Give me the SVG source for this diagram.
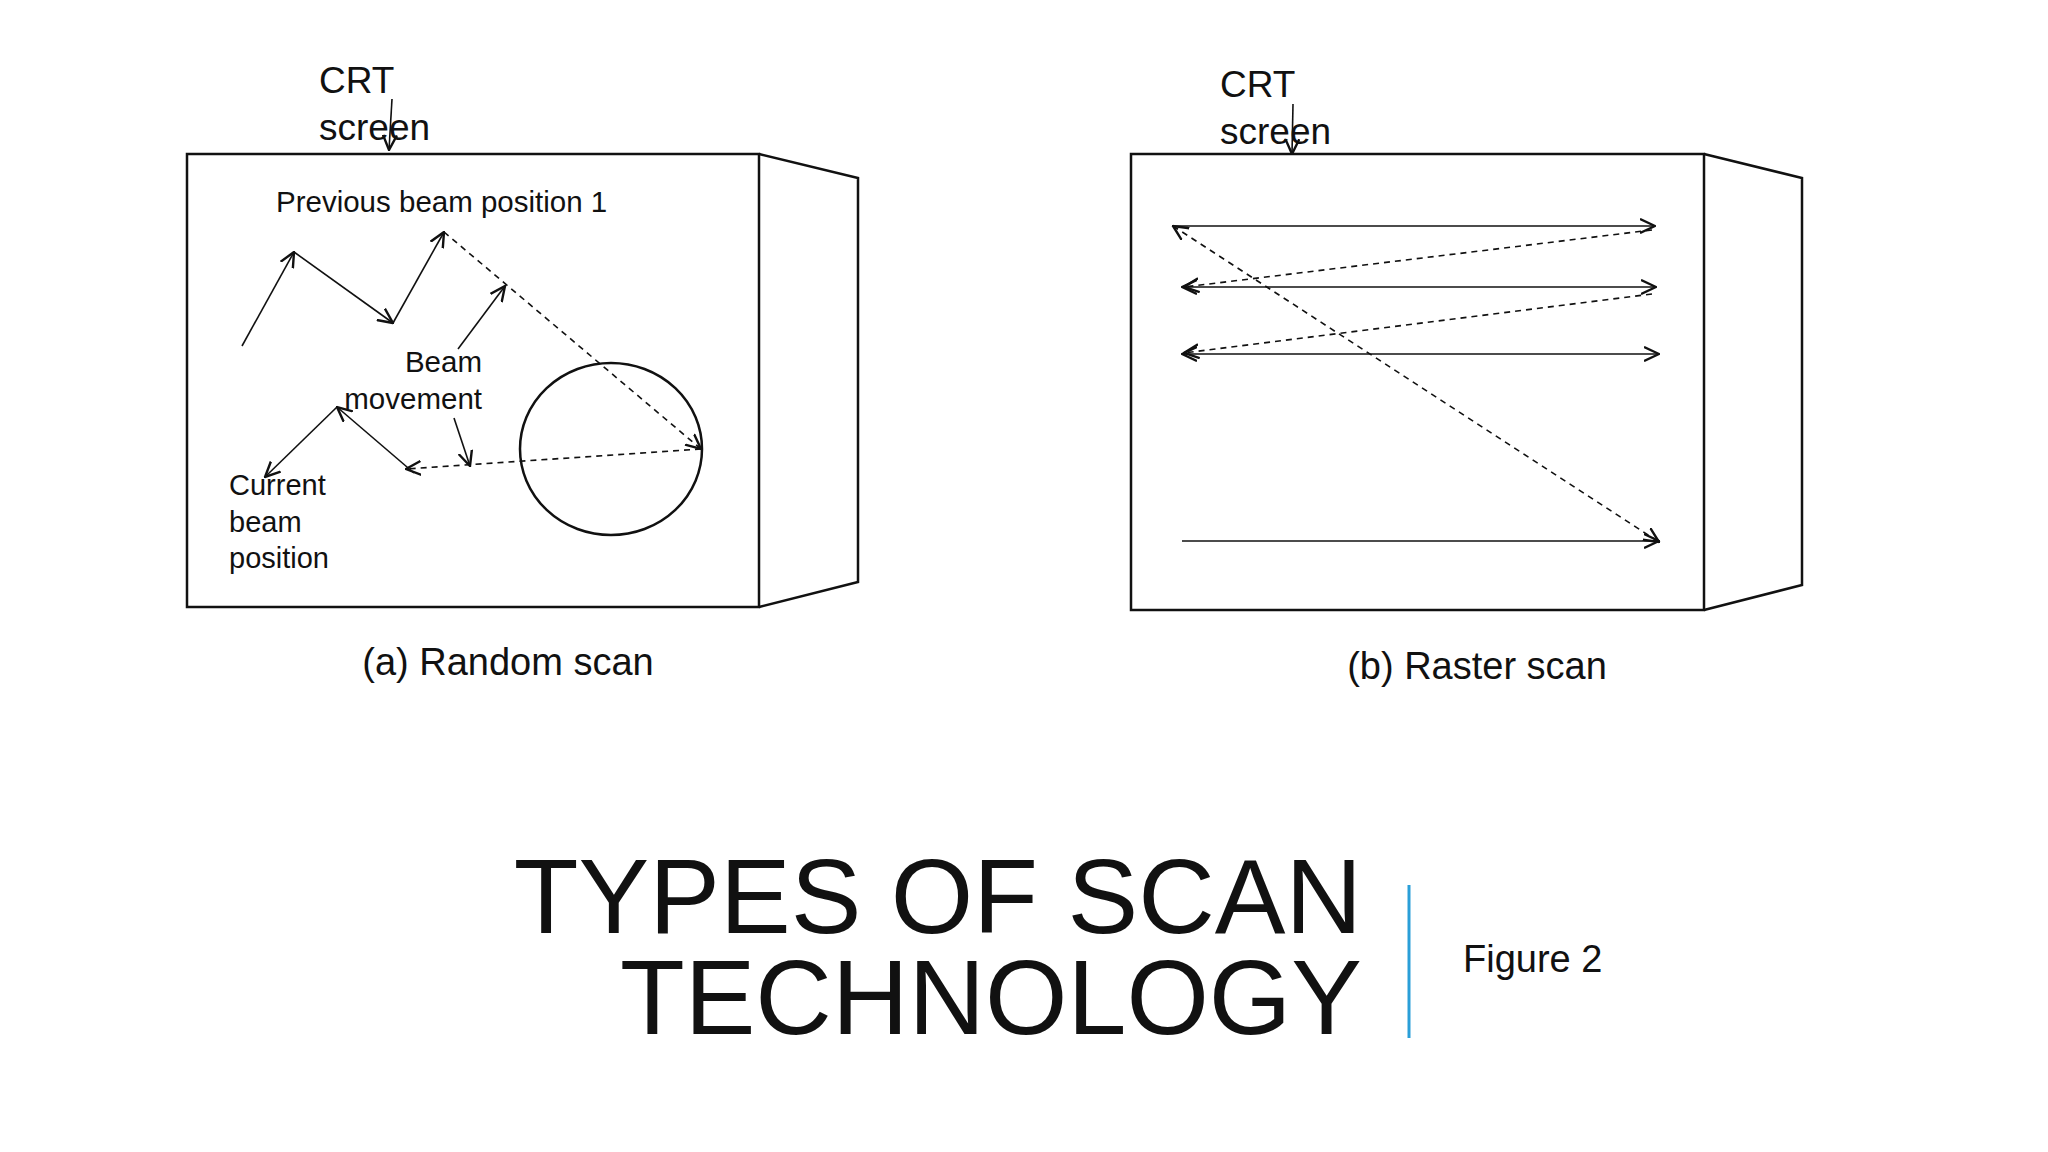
<svg xmlns="http://www.w3.org/2000/svg" width="2048" height="1152" viewBox="0 0 2048 1152">
<style>
.t{font-family:"Liberation Sans",Arial,sans-serif;fill:#111}
.s{stroke:#111;fill:none;stroke-width:1.6}
.b{stroke:#111;fill:none;stroke-width:2.5}
.d{stroke-dasharray:6,5}
</style>
<defs>
<marker id="a" viewBox="0 0 16 16" refX="15" refY="8" markerWidth="16" markerHeight="16" markerUnits="userSpaceOnUse" orient="auto-start-reverse"><path d="M0,1 L15,8 L0,15" fill="none" stroke="#111" stroke-width="2.4"/></marker>
</defs>
<rect width="2048" height="1152" fill="#fff"/>
<g id="panelA">
<rect x="187" y="154" width="572" height="453" class="b"/>
<path d="M759,154 L858,178 L858,582 L759,607" class="b"/>
<ellipse cx="611" cy="449" rx="91" ry="86" class="b"/>
<text class="t" x="319" y="93" font-size="37">CRT</text>
<text class="t" x="319" y="140" font-size="37">screen</text>
<text class="t" x="276" y="212" font-size="29.5">Previous beam position 1</text>
<text class="t" x="482" y="372" font-size="29.5" text-anchor="end">Beam</text>
<text class="t" x="482" y="409" font-size="29.5" text-anchor="end">movement</text>
<text class="t" x="229" y="495" font-size="29">Current</text>
<text class="t" x="229" y="532" font-size="29">beam</text>
<text class="t" x="229" y="568" font-size="29">position</text>
<text class="t" x="508" y="675" font-size="38" text-anchor="middle">(a) Random scan</text>
</g>
<g id="panelB">
<rect x="1131" y="154" width="573" height="456" class="b"/>
<path d="M1704,154 L1802,178 L1802,585 L1704,610" class="b"/>
<text class="t" x="1220" y="97" font-size="37">CRT</text>
<text class="t" x="1220" y="144" font-size="37">screen</text>
<text class="t" x="1477" y="679" font-size="38" text-anchor="middle">(b) Raster scan</text>
</g>
<g id="connectors">
<path d="M392,99 L389,150" class="s" marker-end="url(#a)"/>
<path d="M242,346 L294,252" class="s" marker-end="url(#a)"/>
<path d="M294,252 L393,323" class="s" marker-end="url(#a)"/>
<path d="M393,323 L444,232" class="s" marker-end="url(#a)"/>
<path d="M444,232 L701,449" class="s d" marker-end="url(#a)"/>
<path d="M458,349 L505,286" class="s" marker-end="url(#a)"/>
<path d="M454,418 L470,466" class="s" marker-end="url(#a)"/>
<path d="M701,449 L406,469" class="s d" marker-end="url(#a)"/>
<path d="M414,473 L337,407" class="s" marker-end="url(#a)"/>
<path d="M337,407 L265,477" class="s" marker-end="url(#a)"/>
<path d="M1293,104 L1292,154" class="s" marker-end="url(#a)"/>
<path d="M1173,226 L1655,226" class="s" marker-end="url(#a)"/>
<path d="M1652,230 L1184,287" class="s d" marker-end="url(#a)"/>
<path d="M1182,287 L1656,287" class="s" marker-start="url(#a)" marker-end="url(#a)"/>
<path d="M1652,294 L1184,353" class="s d" marker-end="url(#a)"/>
<path d="M1182,354 L1659,354" class="s" marker-start="url(#a)" marker-end="url(#a)"/>
<path d="M1173,226 L1659,542" class="s d" marker-start="url(#a)" marker-end="url(#a)"/>
<path d="M1182,541 L1659,541" class="s" marker-end="url(#a)"/>
</g>
<g id="title">
<text class="t" x="1362" y="933" font-size="106" text-anchor="end">TYPES OF SCAN</text>
<text class="t" x="1362" y="1034" font-size="106" text-anchor="end">TECHNOLOGY</text>
<line x1="1409" y1="885" x2="1409" y2="1038" stroke="#2a9fd8" stroke-width="3"/>
<text class="t" x="1463" y="972" font-size="38">Figure 2</text>
</g>
</svg>
